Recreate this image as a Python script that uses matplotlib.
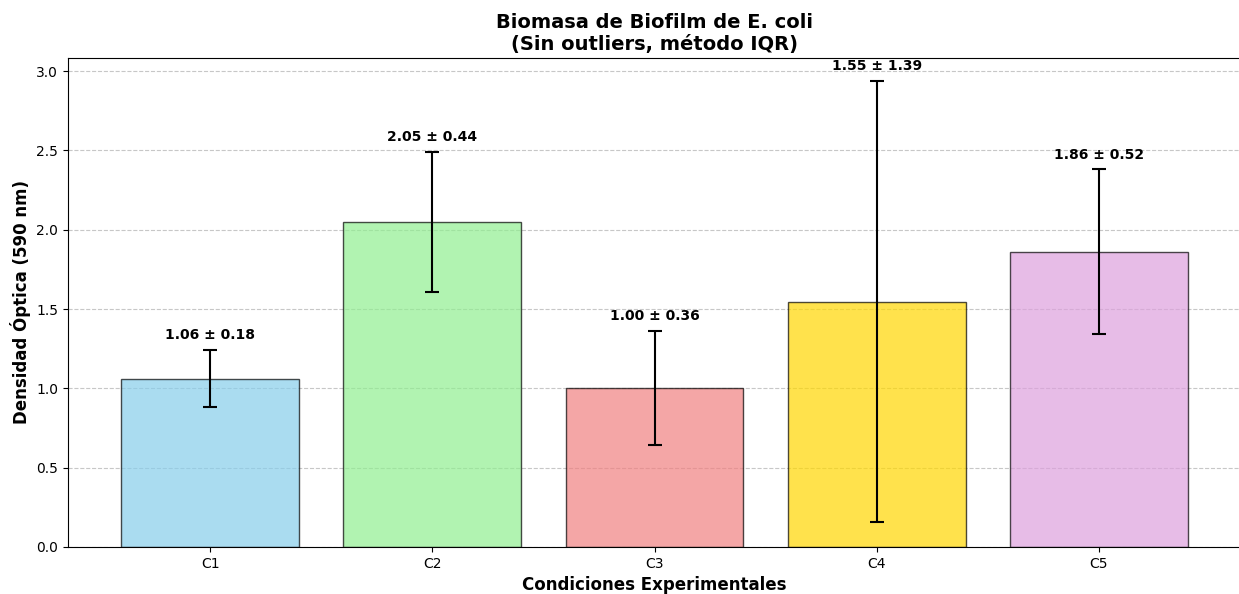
import numpy as np
import matplotlib.pyplot as plt

conditions = ["C1", "C2", "C3", "C4", "C5"]
means = [1.06, 2.05, 1.00, 1.546, 1.86]
stds = [0.18, 0.44, 0.36, 1.39, 0.52]
colors = ["skyblue", "lightgreen", "lightcoral", "gold", "plum"]

fig, ax = plt.subplots(figsize=(12.39, 5.94), dpi=100)
x = np.arange(len(conditions))
ax.bar(x, means, yerr=stds, capsize=5, color=colors, alpha=0.7,
       edgecolor="black", linewidth=1, error_kw={"elinewidth": 1.5, "capthick": 1.5})

for xi, m, s in zip(x, means, stds):
    ax.text(xi, m + s + 0.05, f"{m:.2f} ± {s:.2f}", ha="center", va="bottom",
            fontweight="bold", fontsize=10)

ax.set_xticks(x)
ax.set_xticklabels(conditions)
ax.set_title("Biomasa de Biofilm de E. coli\n(Sin outliers, método IQR)",
             fontsize=14, fontweight="bold")
ax.set_xlabel("Condiciones Experimentales", fontsize=12, fontweight="bold")
ax.set_ylabel("Densidad Óptica (590 nm)", fontsize=12, fontweight="bold")
ax.grid(axis="y", linestyle="--", alpha=0.7)
ax.set_axisbelow(True)

# the reference image is cropped just past the right spine
fig.subplots_adjust(left=68 / 1239, right=1241 / 1239, top=1 - 58 / 594, bottom=1 - 547 / 594)
plt.savefig("out.png")
